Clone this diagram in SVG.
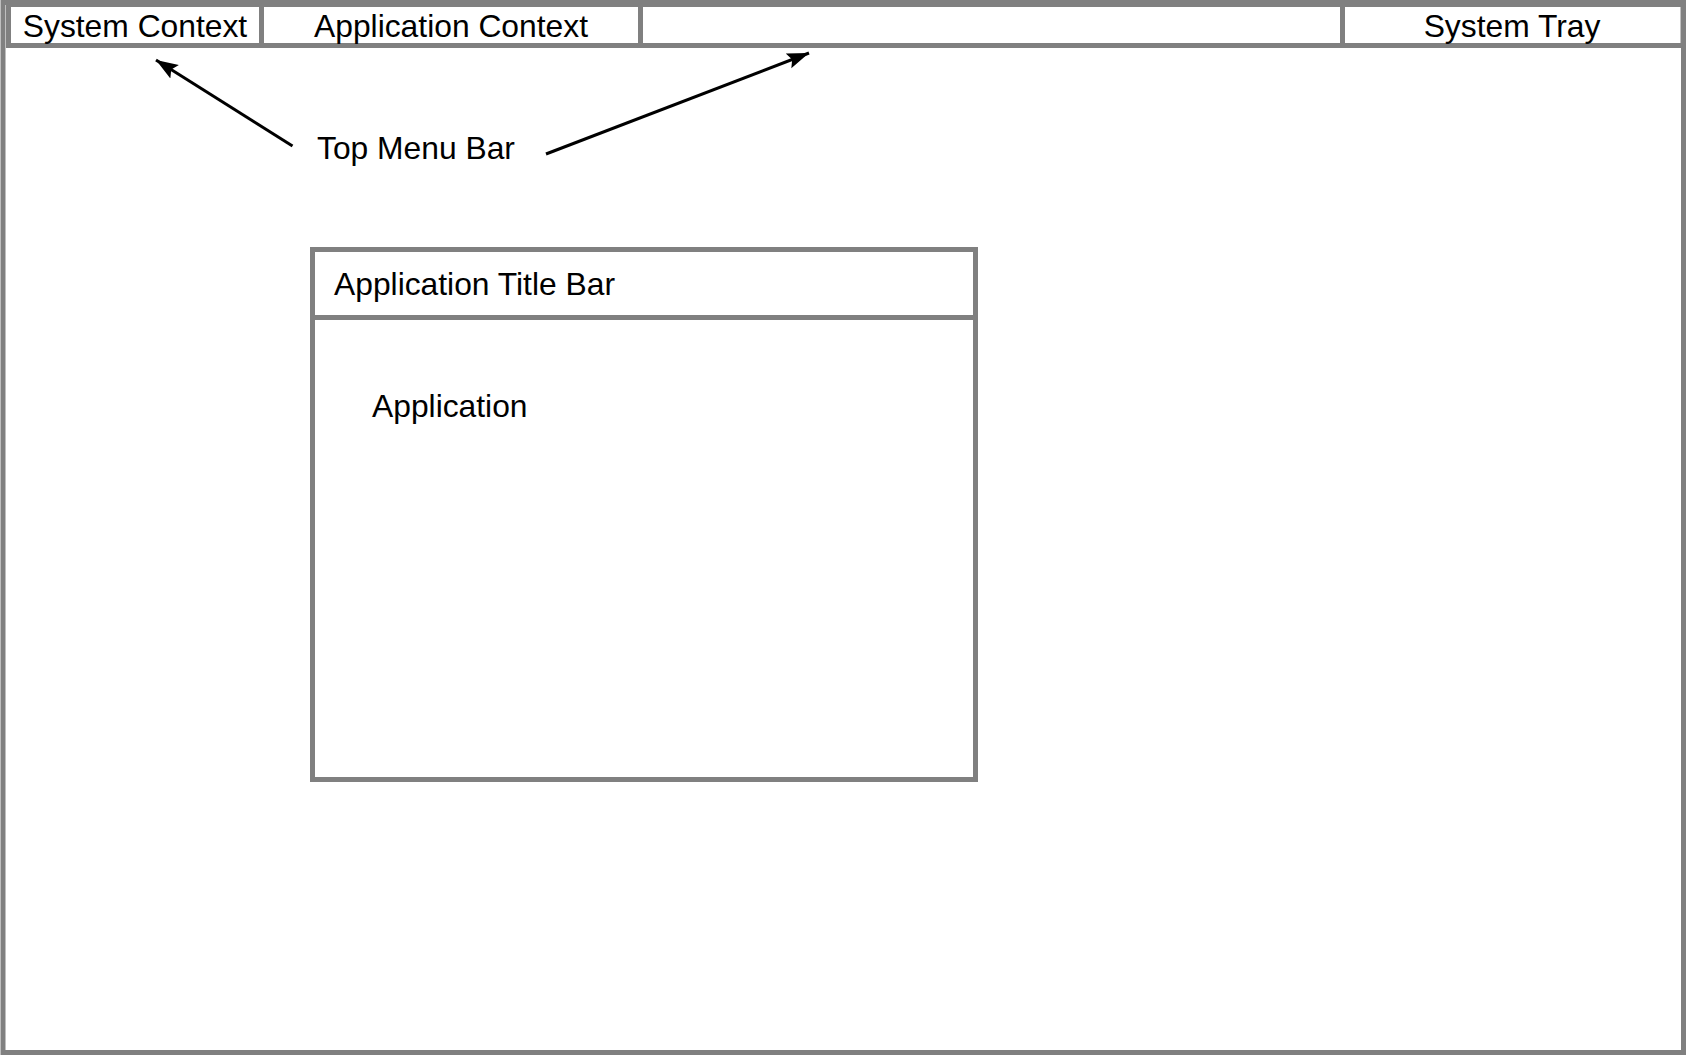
<svg xmlns="http://www.w3.org/2000/svg" width="1686" height="1056" viewBox="0 0 1686 1056">
<style>
.box{fill:#fff;stroke:#808080;stroke-width:5}
.t{font-family:"Liberation Sans",Arial,sans-serif;font-size:31.8px;fill:#000}
.c{text-anchor:middle}
.arr{stroke:#000;stroke-width:3;fill:none}
</style>
<defs>
<marker id="ah" markerUnits="userSpaceOnUse" markerWidth="24" markerHeight="18" refX="22" refY="8" orient="auto">
<path d="M0,0 L22,8 L0,16 L4,8 z" fill="#000"/>
</marker>
</defs>
<g id="screen">
<rect class="box" x="3" y="2.5" width="1680.5" height="1050"/>
</g>
<g id="system-context">
<rect class="box" x="8.5" y="4.5" width="253" height="41"/>
<text class="t c" x="135" y="37">System Context</text>
</g>
<g id="application-context">
<rect class="box" x="261.5" y="4.5" width="379" height="41"/>
<text class="t c" x="451" y="37">Application Context</text>
</g>
<g id="menu-spacer">
<rect class="box" x="640.5" y="4.5" width="702" height="41"/>
</g>
<g id="system-tray">
<rect class="box" x="1342.5" y="4.5" width="340.5" height="41"/>
<text class="t c" x="1512" y="37">System Tray</text>
</g>
<g id="top-menu-bar-label">
<text class="t" x="317" y="159">Top Menu Bar</text>
</g>
<g id="application-window">
<rect class="box" x="312.5" y="249.5" width="663" height="530"/>
<line x1="312.5" y1="317.5" x2="975.5" y2="317.5" stroke="#808080" stroke-width="5"/>
<text class="t" x="334" y="295">Application Title Bar</text>
<text class="t" x="372" y="417">Application</text>
</g>
<g id="connectors">
<line class="arr" x1="292.5" y1="146" x2="156" y2="60" marker-end="url(#ah)"/>
<line class="arr" x1="546" y1="154" x2="809" y2="53" marker-end="url(#ah)"/>
</g>
</svg>
